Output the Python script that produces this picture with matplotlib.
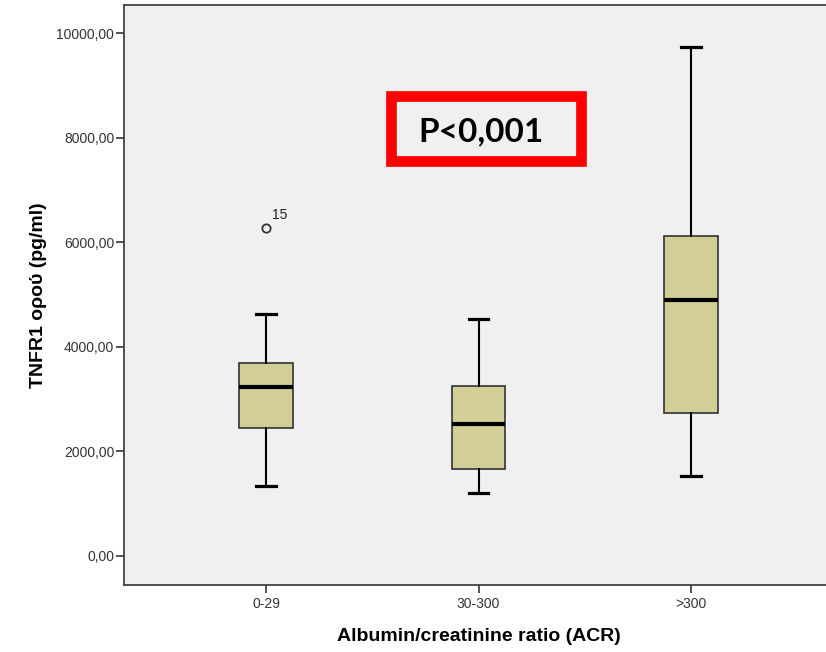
import matplotlib
matplotlib.use("Agg")
import matplotlib.pyplot as plt
from matplotlib.patches import Rectangle

# values (pg/ml)
groups = ["0-29", "30-300", ">300"]
whisker_low = [1340, 1200, 1535]
q1 = [2455, 1658, 2730]
medians = [3227, 2525, 4900]
q3 = [3698, 3252, 6122]
whisker_high = [4624, 4534, 9738]
outliers = [[6281], [], []]
outlier_ids = [["15"], [], []]

y_ticks = [0, 2000, 4000, 6000, 8000, 10000]
p_text = "P<0,001"

W, H = 826, 652
fig = plt.figure(figsize=(W / 100, H / 100), dpi=100)
fig.patch.set_facecolor("white")

# axes box in pixels: left 124, right ~833 (cut off), top 5, bottom 585
ax = fig.add_axes([124 / W, (H - 585) / H, (833 - 124) / W, 580 / H])
ax.set_facecolor("#f0f0f0")

stats = []
for i in range(len(groups)):
    stats.append({
        "whislo": whisker_low[i], "q1": q1[i], "med": medians[i],
        "q3": q3[i], "whishi": whisker_high[i], "fliers": outliers[i],
    })

positions = list(range(1, len(groups) + 1))
ax.bxp(stats, positions=positions, widths=0.25, capwidths=0.09,
       patch_artist=True, showfliers=True,
       boxprops=dict(facecolor="#d3ce98", edgecolor="#333333", linewidth=1.2),
       medianprops=dict(color="black", linewidth=3),
       whiskerprops=dict(color="black", linewidth=1.5),
       capprops=dict(color="black", linewidth=2.3),
       flierprops=dict(marker="o", markersize=6, markerfacecolor="none",
                       markeredgecolor="#333333", markeredgewidth=1.3))

for i, ids in enumerate(outlier_ids):
    for val, lab in zip(outliers[i], ids):
        ax.annotate(lab, (positions[i], val), xytext=(4, 6),
                    textcoords="offset points", fontsize=10,
                    family="Liberation Sans", color="#222222")

ax.set_xlim(0.332, 3.668)
ax.set_ylim(-555, 10541)
ax.set_xticks(positions)
ax.set_xticklabels(groups)
ax.set_yticks(y_ticks)
ax.set_yticklabels([f"{v:.2f}".replace(".", ",") for v in y_ticks])

for s in ax.spines.values():
    s.set_color("#444444")
    s.set_linewidth(1.3)

ax.tick_params(axis="y", direction="out", length=6, width=1.3,
               color="#444444", pad=1, labelsize=10, labelcolor="#333333")
ax.tick_params(axis="x", direction="out", length=6, width=1.3,
               color="#444444", pad=3, labelsize=10, labelcolor="#333333")
for t in ax.get_xticklabels() + ax.get_yticklabels():
    t.set_family("Liberation Sans")

ax.set_xlabel("Albumin/creatinine ratio (ACR)", fontsize=14,
              fontweight="bold", family="Liberation Sans", labelpad=12)
ax.set_ylabel("TNFR1 ορού (pg/ml)", fontsize=14,
              fontweight="bold", family="Liberation Sans", labelpad=7)

# red frame with the p-value
fig.patches.append(Rectangle((391 / W, (H - 161) / H), 190 / W, 65 / H,
                             transform=fig.transFigure, fill=False,
                             edgecolor="#ff0000", linewidth=7.7))
fig.text(418 / W, (H - 141.7) / H, p_text, fontsize=24, fontweight="bold",
         family="Lato", ha="left", va="baseline", color="black")

fig.savefig("out.png", dpi=100)
